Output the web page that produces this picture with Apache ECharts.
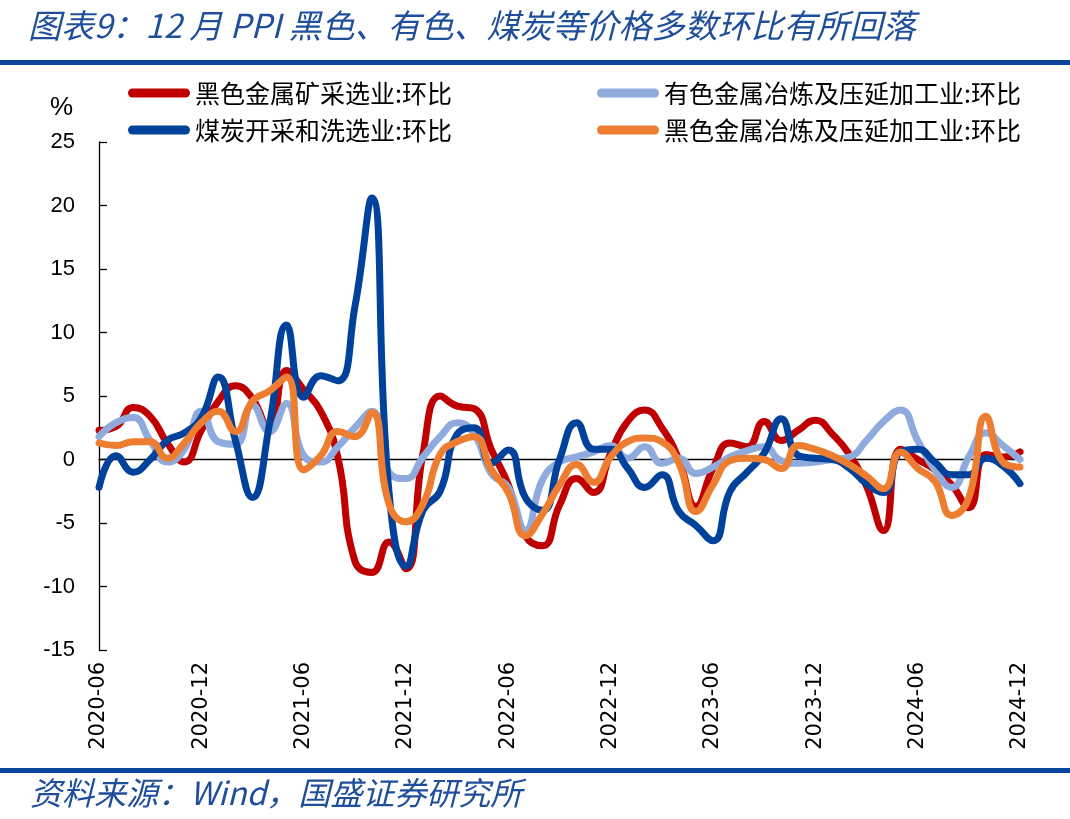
<!DOCTYPE html>
<html>
<head>
<meta charset="utf-8">
<script src="https://cdn.jsdelivr.net/npm/echarts@6/dist/echarts.min.js"></script>
<style>
html,body{margin:0;padding:0;background:#fff;}
#chart{width:1070px;height:819px;}
</style>
</head>
<body>
<div id="chart"></div>
<script>
var months = ["2020-06","2020-07","2020-08","2020-09","2020-10","2020-11","2020-12",
"2021-01","2021-02","2021-03","2021-04","2021-05","2021-06","2021-07","2021-08","2021-09","2021-10","2021-11","2021-12",
"2022-01","2022-02","2022-03","2022-04","2022-05","2022-06","2022-07","2022-08","2022-09","2022-10","2022-11","2022-12",
"2023-01","2023-02","2023-03","2023-04","2023-05","2023-06","2023-07","2023-08","2023-09","2023-10","2023-11","2023-12",
"2024-01","2024-02","2024-03","2024-04","2024-05","2024-06","2024-07","2024-08","2024-09","2024-10","2024-11","2024-12"];

var ferrousMining = [2.3,2.6,4.1,3.4,1.3,-0.2,2.3,4.6,5.8,4.8,2.2,7.0,5.5,3.8,0.2,-8.0,-8.9,-6.5,-8.6,0.5,5.0,4.2,4.0,0.8,-2.0,-6.0,-6.8,-3.6,-1.5,-2.6,0.5,3.0,3.9,2.5,0.0,-3.7,-0.7,1.3,1.0,3.0,1.5,2.3,3.1,2.0,0.4,-2.1,-5.6,0.8,0.0,-0.8,-2.0,-3.8,0.4,0.2,0.6];
var nonferrousSmelting = [1.8,2.9,3.3,1.5,-0.2,0.8,3.8,1.4,1.2,4.3,2.2,4.4,0.3,-0.2,1.0,2.5,3.8,-1.0,-1.5,0.2,1.8,2.9,2.0,-1.1,-2.2,-5.6,-1.6,-0.2,0.2,0.6,1.1,0.1,1.0,-0.3,0.1,-1.1,-0.6,0.2,0.7,1.0,-0.1,-0.3,-0.2,0.0,0.2,1.5,3.0,3.9,1.5,-0.8,-2.2,0.2,2.1,1.1,0.0];
var coalMining = [-2.2,0.3,-1.0,0.0,1.5,2.1,3.3,6.5,1.5,-3.0,2.8,10.6,4.9,6.6,6.2,12.0,20.6,-2.5,-8.4,-4.0,-2.5,2.0,2.5,-0.3,0.75,-3.0,-4.0,0.0,2.9,0.8,0.8,-0.7,-2.2,-1.2,-4.1,-5.2,-6.4,-2.5,-1.0,0.5,3.2,0.3,0.1,0.0,-0.7,-1.9,-2.6,0.6,0.8,-0.2,-1.2,-1.2,0.1,-0.5,-1.9];
var ferrousSmelting = [1.3,1.1,1.4,1.4,0.1,1.3,2.9,3.8,2.2,4.6,5.4,6.5,-0.8,0.3,2.2,1.8,3.7,-3.5,-4.9,-3.5,0.4,1.4,1.8,-0.8,-2.6,-6.0,-4.3,-2.0,-0.4,-1.8,0.2,1.4,1.7,1.4,-0.3,-4.1,-2.0,-0.1,0.1,0.0,-0.7,1.1,0.8,0.3,-0.4,-1.3,-2.3,0.6,-0.7,-1.7,-4.4,-3.0,3.4,-0.2,-0.6];

var seriesNames = ["黑色金属矿采选业:环比","有色金属冶炼及压延加工业:环比","煤炭开采和洗选业:环比","黑色金属冶炼及压延加工业:环比"];
var seriesColors = ["#C00000","#8FAADC","#00429B","#ED7D31"];
var seriesData = [ferrousMining, nonferrousSmelting, coalMining, ferrousSmelting];

var titleText = "图表9：12 月 PPI 黑色、有色、煤炭等价格多数环比有所回落";
var sourceText = "资料来源：Wind，国盛证券研究所";

var chart = echarts.init(document.getElementById('chart'), null, {renderer: 'canvas'});
var capsule = 'path://M4.5,0 H57.5 A4.5,4.5 0 0 1 57.5,9 H4.5 A4.5,4.5 0 0 1 4.5,0 Z';
var legendText = {fontSize: 25, color: '#000', fontFamily: '"Noto Sans CJK SC"', lineHeight: 26};

var series = seriesData.map(function (d, k) {
  return {
    name: seriesNames[k],
    type: 'line',
    data: d,
    smooth: 0.5,
    symbol: 'none',
    color: seriesColors[k],
    lineStyle: {width: 7, color: seriesColors[k], cap: 'round', join: 'round'},
    z: 3 + k
  };
});

var option = {
  backgroundColor: '#fff',
  animation: false,
  textStyle: {fontFamily: '"Noto Sans CJK SC"'},
  legend: [
    {data: [seriesNames[0], seriesNames[2]], orient: 'vertical', left: 128, top: 80, itemGap: 11, padding: 0,
     itemWidth: 62, itemHeight: 9, icon: capsule, textStyle: legendText, selectedMode: false},
    {data: [seriesNames[1], seriesNames[3]], orient: 'vertical', left: 597, top: 80, itemGap: 11, padding: 0,
     itemWidth: 62, itemHeight: 9, icon: capsule, textStyle: legendText, selectedMode: false}
  ],
  grid: {left: 99, right: 50, top: 142, bottom: 169, containLabel: false},
  xAxis: [
    {type: 'category', data: months, boundaryGap: false, position: 'bottom',
     axisLine: {show: false, onZero: false}, axisTick: {show: false},
     axisLabel: {interval: 5, rotate: 90, margin: 12, fontSize: 21, color: '#000', fontFamily: '"DejaVu Sans"'},
     splitLine: {show: false}},
    {type: 'category', data: months, boundaryGap: false, position: 'bottom',
     axisLine: {show: true, onZero: true, lineStyle: {color: '#000', width: 1.3}},
     axisTick: {show: false}, axisLabel: {show: false}, splitLine: {show: false}}
  ],
  yAxis: {type: 'value', min: -15, max: 25, interval: 5,
    axisLine: {show: true, lineStyle: {color: '#000', width: 1.3}},
    axisTick: {show: true, inside: true, length: 8, lineStyle: {color: '#000', width: 1.3}},
    axisLabel: {fontSize: 22, color: '#000', margin: 24, fontFamily: '"Liberation Sans Narrow", "Liberation Sans"'},
    splitLine: {show: false}},
  series: series,
  graphic: [
    {type: 'text', left: 28, top: 9, style: {text: titleText, fontSize: 33, fontStyle: 'italic',
      fontFamily: '"Noto Sans CJK SC"', fill: '#1F4E9B'}},
    {type: 'rect', shape: {x: 0, y: 60, width: 1070, height: 5}, style: {fill: '#0B45A0'}},
    {type: 'text', left: 50, top: 95, style: {text: '%', fontSize: 26, fill: '#000',
      fontFamily: '"Liberation Sans Narrow", "Liberation Sans"'}},
    {type: 'rect', shape: {x: 0, y: 768, width: 1070, height: 5}, style: {fill: '#0B45A0'}},
    {type: 'text', left: 30, top: 777, style: {text: sourceText, fontSize: 32, fontStyle: 'italic',
      fontFamily: '"Noto Sans CJK SC"', fill: '#1F4E9B'}}
  ]
};
chart.setOption(option);
</script>
</body>
</html>
